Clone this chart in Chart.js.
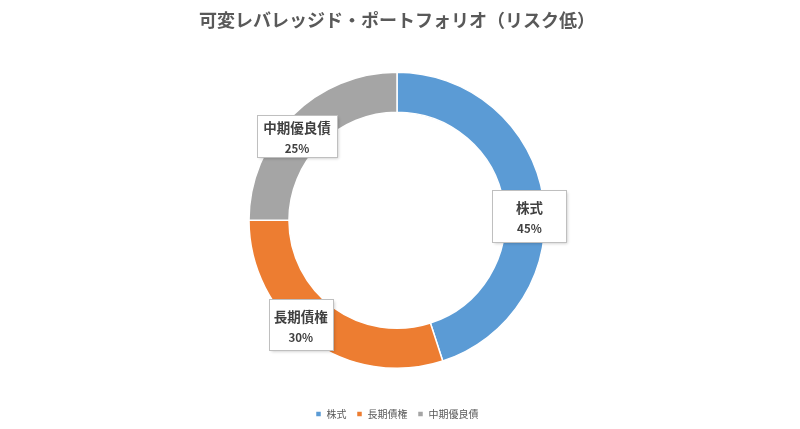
<!DOCTYPE html>
<html><head><meta charset="utf-8">
<script src="https://cdn.jsdelivr.net/npm/chart.js@4"></script>
<style>html,body{margin:0;padding:0;background:#fff}#wrap{width:800px;height:429px}</style>
</head><body><div id="wrap"><canvas id="c"></canvas></div>
<script>
const titleText = '可変レバレッジド・ポートフォリオ（リスク低）';
const categories = ['株式', '長期債権', '中期優良債'];
const values = [45, 30, 25];
const colors = ['#5B9BD5', '#ED7D31', '#A5A5A5'];
const FONT = '"Noto Sans CJK JP", "Noto Sans", sans-serif';

const labelPlugin = {
  id: 'boxLabels',
  afterDatasetsDraw(chart) {
    const ctx = chart.ctx;
    const meta = chart.getDatasetMeta(0);
    const total = values.reduce((a, b) => a + b, 0);
    const offs = [[6, 16], [-21, 1], [-9.5, 6.5]];
    const sizes = [[74, 52], [64, 51], [80, 42]];
    meta.data.forEach((arc, i) => {
      const mid = (arc.startAngle + arc.endAngle) / 2;
      const r = arc.outerRadius - 20;
      const cx = arc.x + Math.cos(mid) * r + offs[i][0];
      const cy = arc.y + Math.sin(mid) * r + offs[i][1];
      const name = categories[i];
      const pct = Math.round(values[i] / total * 100) + '%';
      const w = sizes[i][0], h = sizes[i][1];
      ctx.save();
      const x = Math.round(cx - w / 2) + 0.5, y = Math.round(cy - h / 2) + 0.5;
      ctx.shadowColor = 'rgba(0,0,0,0.22)';
      ctx.shadowBlur = 3; ctx.shadowOffsetX = 1; ctx.shadowOffsetY = 1;
      ctx.fillStyle = '#fff';
      ctx.fillRect(x, y, w, h);
      ctx.shadowColor = 'transparent';
      ctx.strokeStyle = '#BFBFBF'; ctx.lineWidth = 1;
      ctx.strokeRect(x, y, w, h);
      ctx.fillStyle = '#404040';
      ctx.textAlign = 'center'; ctx.textBaseline = 'middle';
      ctx.font = 'bold 13.5px ' + FONT;
      ctx.fillText(name, cx, cy - 8);
      ctx.font = 'bold 11.5px ' + FONT;
      ctx.fillText(pct, cx, cy + 12.5);
      ctx.restore();
    });
  }
};

new Chart(document.getElementById('c'), {
  type: 'doughnut',
  data: {
    labels: categories,
    datasets: [{
      data: values,
      backgroundColor: colors,
      borderColor: '#fff',
      borderWidth: 1.5,
      radius: 148,
      cutout: '73%'
    }]
  },
  plugins: [labelPlugin],
  options: {
    responsive: true,
    maintainAspectRatio: false,
    animation: false,
    layout: { padding: { left: 0, right: 6 } },
    plugins: {
      tooltip: { enabled: false },
      title: {
        display: true, text: titleText, color: '#595959',
        font: { family: FONT, size: 18, weight: 'bold' },
        padding: { top: 9, bottom: 11 }
      },
      legend: {
        position: 'bottom',
        labels: {
          color: '#595959', font: { family: FONT, size: 10 },
          boxWidth: 6, boxHeight: 6, padding: 10
        }
      }
    }
  }
});
</script></body></html>
